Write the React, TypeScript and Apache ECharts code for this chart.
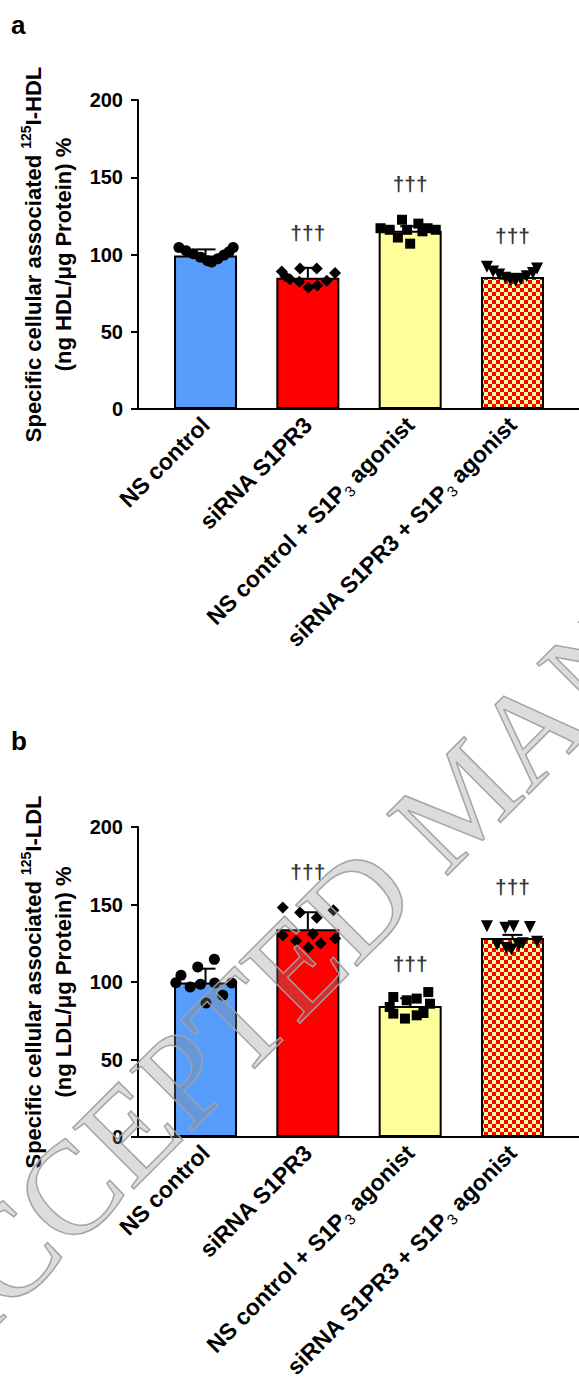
import React, { useEffect, useRef } from "react";
import * as echarts from "echarts";

const categories = [
  "NS control",
  "siRNA S1PR3",
  "NS control + S1P3 agonist",
  "siRNA S1PR3 + S1P3 agonist",
];
const categoryPositions = [0, 1, 2, 3];

// Panel a: 125I-HDL
const hdlMeans = [99.3, 84.9, 115.3, 85.5];
const hdlSD = [4.0, 6.5, 3.0, 2.0];
const hdlDaggers = [null, 114, 146, 112];
const hdlPts0 = [104.6, 102.4, 100.5, 98.3, 96.0, 95.2, 97.2, 99.6, 101.8, 104.6];
const hdlPts1 = [89, 91, 91, 88, 84, 82.3, 78.7, 80, 83, 86];
const hdlPts2 = [117, 116, 117, 122.5, 111, 107, 120, 116, 115, 116];
const hdlPts3 = [92, 89, 87, 85, 83.5, 83, 84, 86, 88, 91];
const hdlJit0 = [-0.26, -0.19, -0.12, -0.05, 0.02, 0.06, 0.12, 0.18, 0.23, 0.27];
const hdlJit1 = [-0.255, -0.076, 0.087, 0.266, -0.174, -0.083, 0.005, 0.093, 0.185, -0.22];
const hdlJit2 = [-0.29, -0.2, 0.17, -0.08, -0.12, 0.0, 0.08, 0.25, 0.12, -0.03];
const hdlJit3 = [-0.25, -0.19, -0.13, -0.07, -0.02, 0.03, 0.08, 0.14, 0.2, 0.24];

// Panel b: 125I-LDL
const ldlMeans = [99.6, 134.0, 84.5, 128.4];
const ldlSD = [9.0, 11.0, 5.0, 2.0];
const ldlDaggers = [null, 171, 112, 161.5];
const ldlPts0 = [104.3, 109.7, 114.6, 96.8, 86.5, 91.4, 99.4, 99.4, 98.5, 99.5];
const ldlPts1 = [148, 144.8, 141.5, 146.3, 130.1, 126.5, 122.2, 124.8, 128, 131];
const ldlPts2 = [90.3, 88.2, 89.3, 93.5, 79.6, 76.4, 78.5, 86, 83.9, 80];
const ldlPts3 = [136, 135, 136, 135.5, 122, 123.5, 124, 126, 125, 121];
const ldlJit0 = [-0.24, -0.076, 0.086, -0.15, 0.005, 0.168, 0.256, 0.09, -0.05, -0.29];
const ldlJit1 = [-0.245, -0.076, 0.087, 0.25, -0.245, -0.115, 0.005, 0.126, 0.267, 0.05];
const ldlJit2 = [-0.165, -0.034, 0.064, 0.177, -0.165, -0.051, 0.064, 0.194, -0.2, 0.13];
const ldlJit3 = [-0.25, -0.07, 0.01, 0.17, -0.06, 0.06, -0.15, 0.24, 0.1, -0.01];

const symbols = ["circle", "diamond", "rect", "triangle"];
const symbolSizes = [11, 12, 10, 12];
const symbolRotations = [0, 0, 0, 180];

const FONT = '"Liberation Sans", Arial, Helvetica, sans-serif';

function makeChecker(): string {
  const c = document.createElement("canvas");
  c.width = 8;
  c.height = 8;
  const g = c.getContext("2d")!;
  g.fillStyle = "#FFFF99";
  g.fillRect(0, 0, 8, 8);
  g.fillStyle = "#FF0000";
  g.fillRect(0, 0, 4, 4);
  g.fillRect(4, 4, 4, 4);
  return c.toDataURL();
}

export default function App() {
  const ref = useRef<HTMLDivElement>(null);

  useEffect(() => {
    if (!ref.current) return;
    const chart = echarts.init(ref.current, undefined, { renderer: "svg" });
    const checker = {
      image: makeChecker(),
      repeat: "repeat",
      imageWidth: 8,
      imageHeight: 8,
    };
    const barColors: any[] = ["#579DFB", "#FF0000", "#FFFF99", checker];

    const panels = [
      {
        means: hdlMeans,
        sd: hdlSD,
        daggers: hdlDaggers,
        pts: [hdlPts0, hdlPts1, hdlPts2, hdlPts3],
        jit: [hdlJit0, hdlJit1, hdlJit2, hdlJit3],
        lipo: "HDL",
      },
      {
        means: ldlMeans,
        sd: ldlSD,
        daggers: ldlDaggers,
        pts: [ldlPts0, ldlPts1, ldlPts2, ldlPts3],
        jit: [ldlJit0, ldlJit1, ldlJit2, ldlJit3],
        lipo: "LDL",
      },
    ];

    const grids = [
      { left: 138, top: 100, right: 0, height: 309, outerBoundsMode: "none", containLabel: false },
      { left: 138, top: 827, right: 0, height: 310, outerBoundsMode: "none", containLabel: false },
    ];

    const xAxes = panels.map((_, p) => ({
      type: "value",
      gridIndex: p,
      min: -0.66,
      max: 3.65,
      splitLine: { show: false },
      axisLine: { show: true, onZero: false, lineStyle: { color: "#000", width: 2 } },
      axisTick: { show: false },
      axisLabel: {
        customValues: categoryPositions,
        rotate: 45,
        margin: 12,
        fontFamily: FONT,
        fontWeight: "bold",
        fontSize: 23,
        lineHeight: 29,
        color: "#000",
        formatter: (v: number) => categories[Math.round(v)].replace("S1P3", "S1P{s|3}"),
        rich: {
          s: {
            fontFamily: FONT,
            fontSize: 15,
            fontWeight: "normal",
            color: "#000",
            lineHeight: 15,
            verticalAlign: "bottom",
          },
        },
      },
    }));

    const yAxes = panels.map((pn, p) => ({
      type: "value",
      gridIndex: p,
      min: 0,
      max: 200,
      interval: 50,
      splitLine: { show: false },
      axisLine: { show: true, onZero: false, lineStyle: { color: "#000", width: 2 } },
      axisTick: { show: true, length: 7, lineStyle: { color: "#000", width: 2 } },
      axisLabel: {
        margin: 15,
        fontFamily: FONT,
        fontWeight: "bold",
        fontSize: 20,
        color: "#000",
      },
      name:
        "{n|Specific cellular associated }{sup|125}{n|I-" +
        pn.lipo +
        "}\n{n|(ng " +
        pn.lipo +
        "/μg Protein) %}",
      nameLocation: "middle",
      nameGap: 50,
      nameTextStyle: {
        fontFamily: FONT,
        fontWeight: "bold",
        fontSize: 22,
        lineHeight: 30,
        color: "#000",
        rich: {
          n: { fontFamily: FONT, fontWeight: "bold", fontSize: 22, lineHeight: 30, color: "#000" },
          sup: {
            fontFamily: FONT,
            fontWeight: "bold",
            fontSize: 14,
            lineHeight: 14,
            verticalAlign: "top",
            color: "#000",
          },
        },
      },
    }));

    const series: any[] = [];
    panels.forEach((pn, p) => {
      series.push({
        type: "bar",
        xAxisIndex: p,
        yAxisIndex: p,
        barWidth: 63,
        data: pn.means.map((v, i) => ({
          value: [categoryPositions[i], v],
          itemStyle: { color: barColors[i] },
        })),
        itemStyle: { borderColor: "#000", borderWidth: 2 },
        z: 1,
      });
      series.push({
        type: "custom",
        xAxisIndex: p,
        yAxisIndex: p,
        data: pn.means.map((v, i) => [categoryPositions[i], v, pn.sd[i]]),
        encode: { x: 0, y: 1 },
        z: 2,
        renderItem: (params: any, api: any) => {
          const x = api.value(0);
          const m = api.value(1);
          const s = api.value(2);
          const a = api.coord([x, m]);
          const b = api.coord([x, m + s]);
          const st = { stroke: "#000", lineWidth: 2 };
          return {
            type: "group",
            children: [
              { type: "line", shape: { x1: a[0], y1: a[1], x2: b[0], y2: b[1] }, style: st },
              { type: "line", shape: { x1: b[0] - 10, y1: b[1], x2: b[0] + 10, y2: b[1] }, style: st },
            ],
          };
        },
      });
      pn.pts.forEach((vals, g) => {
        series.push({
          type: "scatter",
          xAxisIndex: p,
          yAxisIndex: p,
          symbol: symbols[g],
          symbolSize: symbolSizes[g],
          symbolRotate: symbolRotations[g],
          itemStyle: { color: "#000", opacity: 1 },
          z: 3,
          data: vals.map((v, k) => [categoryPositions[g] + pn.jit[g][k], v]),
        });
      });
      series.push({
        type: "scatter",
        xAxisIndex: p,
        yAxisIndex: p,
        symbolSize: 1,
        itemStyle: { color: "rgba(0,0,0,0)" },
        z: 4,
        label: {
          show: true,
          position: "inside",
          formatter: "†††",
          fontFamily: FONT,
          fontWeight: "bold",
          fontSize: 21,
          color: "#000",
        },
        data: pn.daggers
          .map((v, i) => (v == null ? null : [categoryPositions[i], v]))
          .filter((d) => d != null),
      });
    });

    chart.setOption({
      animation: false,
      backgroundColor: "#fff",
      grid: grids,
      xAxis: xAxes,
      yAxis: yAxes,
      series,
      graphic: [
        {
          type: "text",
          left: 11,
          top: 12,
          style: { text: "a", font: 'bold 26px "Liberation Sans", Arial, sans-serif', fill: "#000" },
        },
        {
          type: "text",
          left: 11,
          top: 728,
          style: { text: "b", font: 'bold 26px "Liberation Sans", Arial, sans-serif', fill: "#000" },
        },
        {
          type: "text",
          x: -92,
          y: 1352,
          rotation: Math.PI / 4,
          z: 100,
          silent: true,
          style: {
            text: "ACCEPTED MANUSCRIPT",
            font: '132px "Liberation Serif", "Times New Roman", serif',
            fill: "rgba(140,140,140,0.3)",
            stroke: "rgba(165,165,165,0.95)",
            lineWidth: 1.5,
            textAlign: "left",
            textVerticalAlign: "middle",
          },
        },
      ],
    });
    return () => chart.dispose();
  }, []);

  return (
    <div
      ref={ref}
      style={{ position: "absolute", left: 0, top: 0, width: 579, height: 1387 }}
    />
  );
}
